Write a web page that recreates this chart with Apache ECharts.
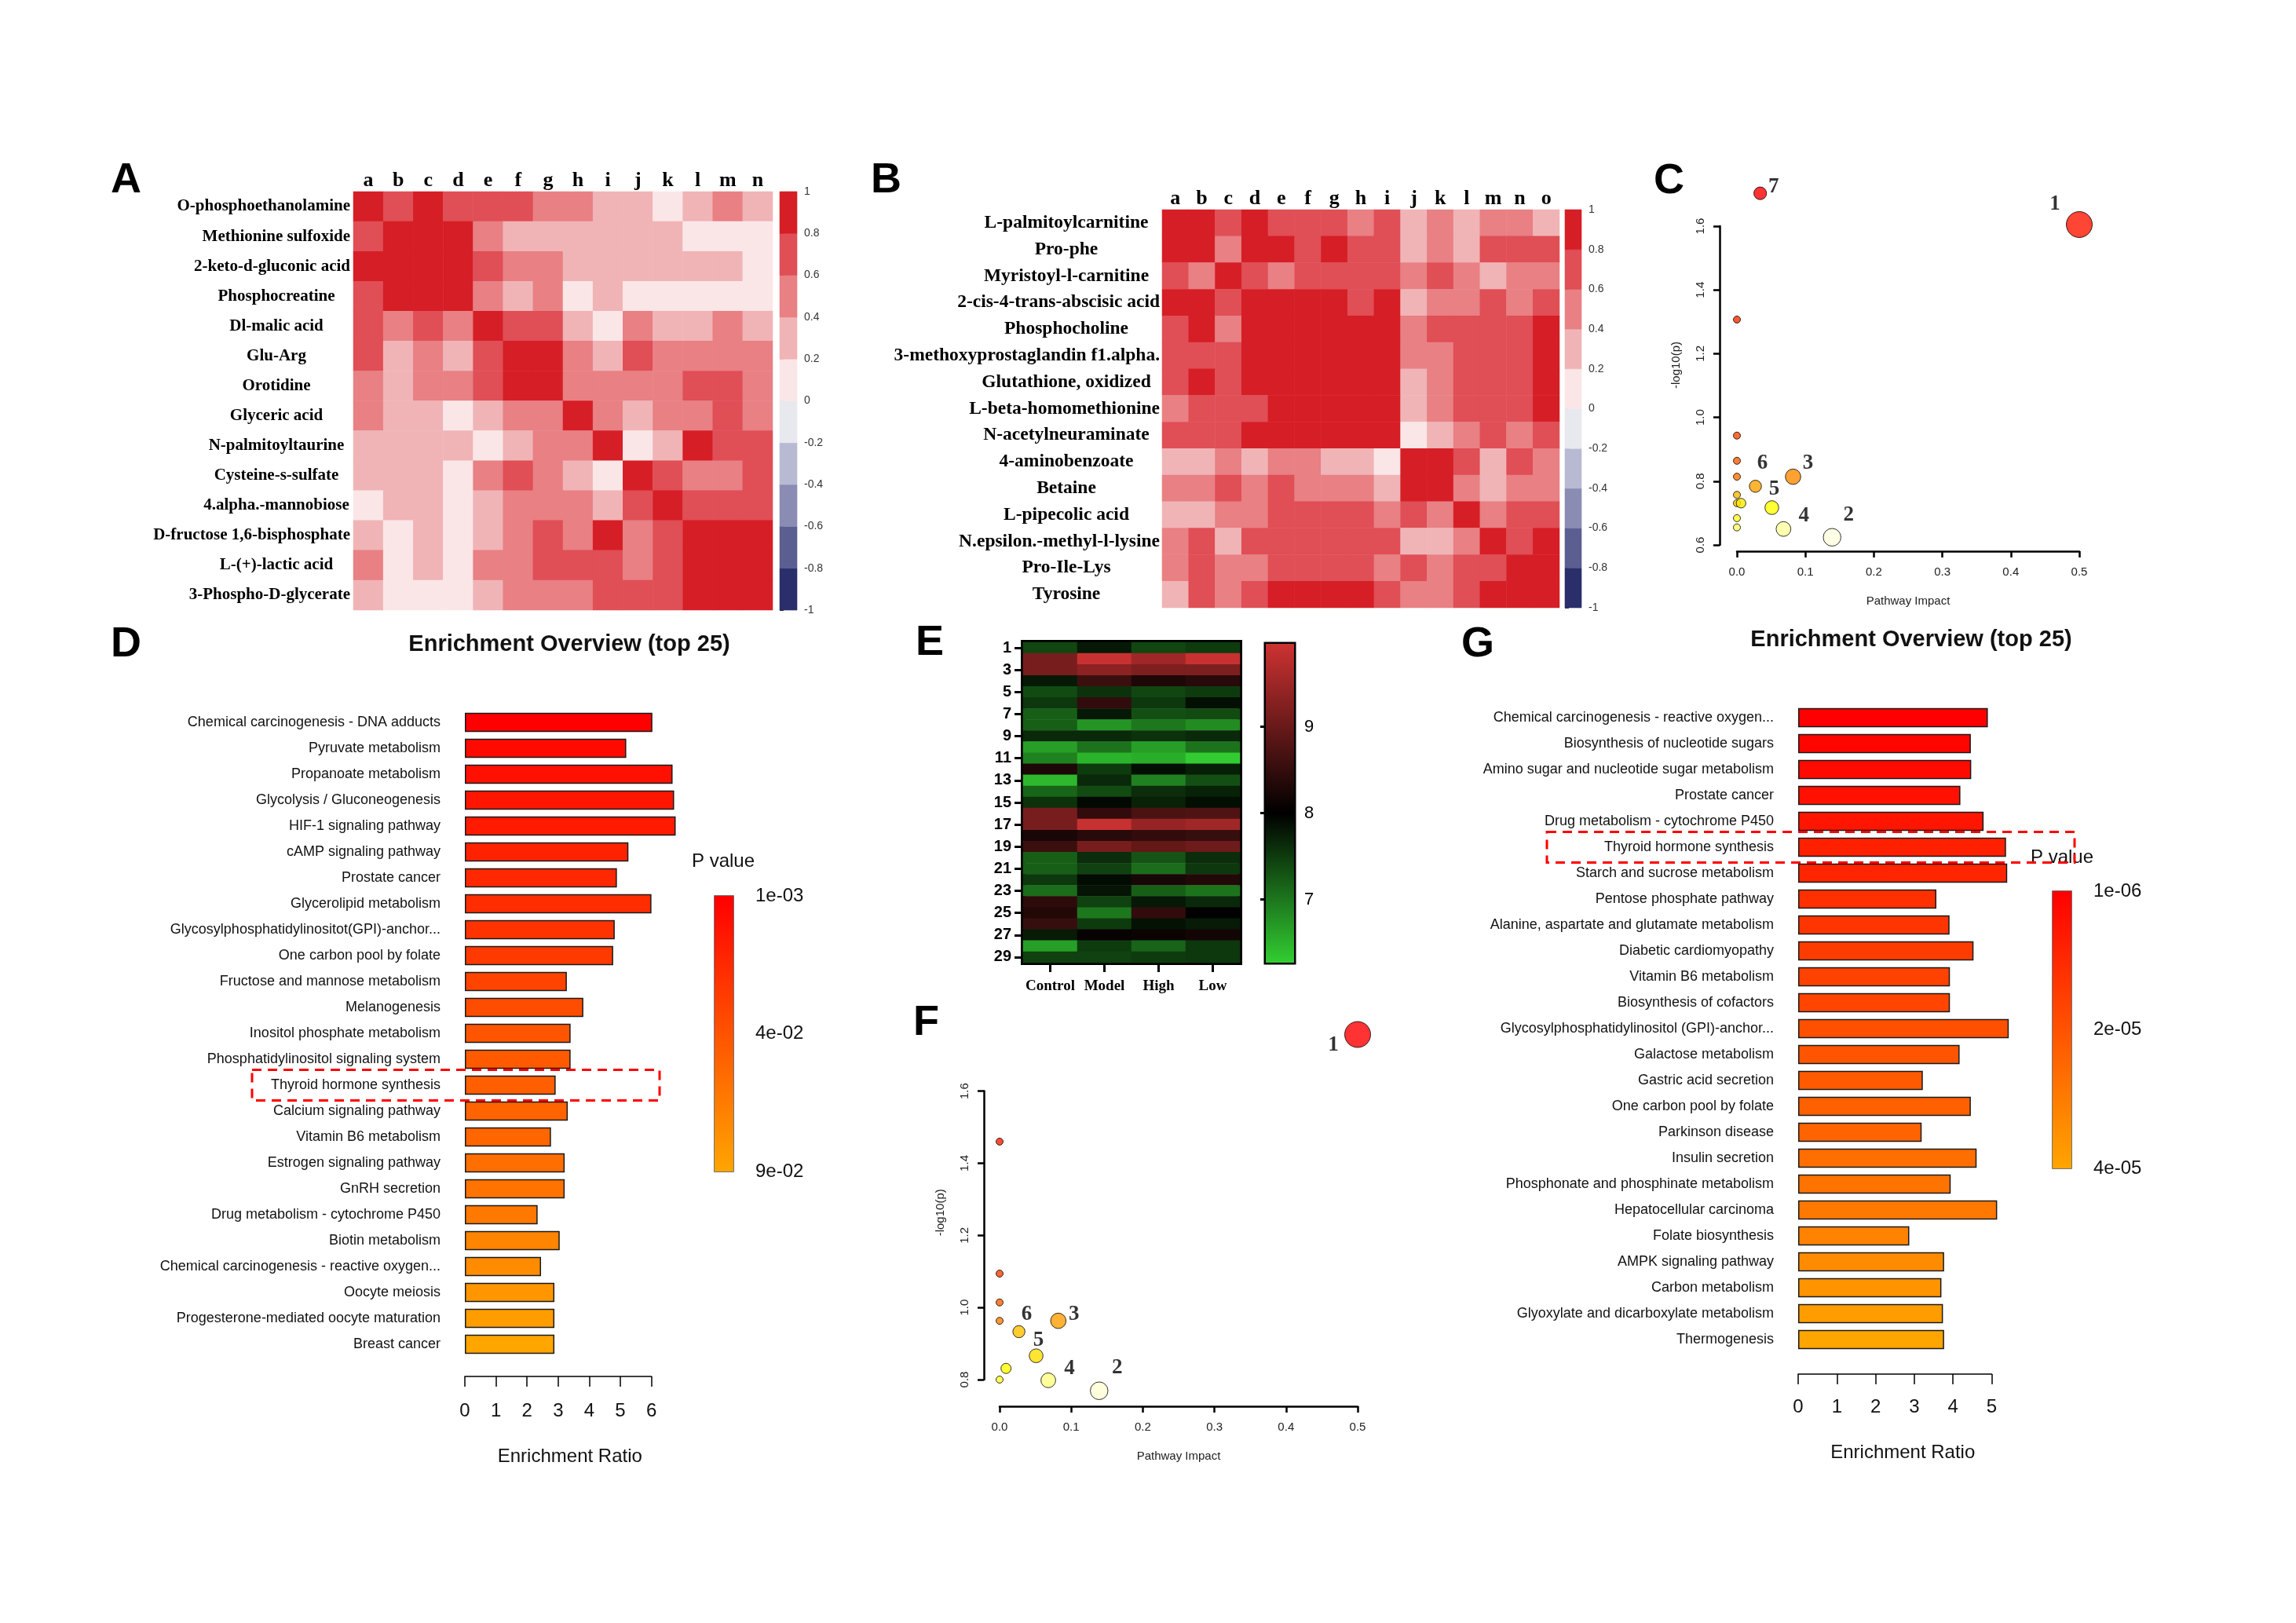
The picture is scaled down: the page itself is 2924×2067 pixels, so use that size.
<!DOCTYPE html>
<html><head><meta charset="utf-8">
<script src="https://cdn.jsdelivr.net/npm/echarts@6.0.0/dist/echarts.min.js"></script>
<style>html,body{margin:0;padding:0;background:#fff}#c{width:2924px;height:2067px}</style>
</head><body><div id="c"></div>
<script>
// ===================== DATA =====================
// Panel A – correlation heatmap
const A_cols = ['a','b','c','d','e','f','g','h','i','j','k','l','m','n'];
const A_rows = ['O-phosphoethanolamine','Methionine sulfoxide','2-keto-d-gluconic acid','Phosphocreatine','Dl-malic acid','Glu-Arg','Orotidine','Glyceric acid','N-palmitoyltaurine','Cysteine-s-sulfate','4.alpha.-mannobiose','D-fructose 1,6-bisphosphate','L-(+)-lactic acid','3-Phospho-D-glycerate'];
const A_values = [
 [0.9,0.7,0.9,0.7,0.7,0.7,0.5,0.5,0.3,0.3,0.1,0.3,0.5,0.3],
 [0.7,0.9,0.9,0.9,0.5,0.3,0.3,0.3,0.3,0.3,0.3,0.1,0.1,0.1],
 [0.9,0.9,0.9,0.9,0.7,0.5,0.5,0.3,0.3,0.3,0.3,0.3,0.3,0.1],
 [0.7,0.9,0.9,0.9,0.5,0.3,0.5,0.1,0.3,0.1,0.1,0.1,0.1,0.1],
 [0.7,0.5,0.7,0.5,0.9,0.7,0.7,0.3,0.1,0.5,0.3,0.3,0.5,0.3],
 [0.7,0.3,0.5,0.3,0.7,0.9,0.9,0.5,0.3,0.7,0.5,0.5,0.5,0.5],
 [0.5,0.3,0.5,0.5,0.7,0.9,0.9,0.5,0.5,0.5,0.5,0.7,0.7,0.5],
 [0.5,0.3,0.3,0.1,0.3,0.5,0.5,0.9,0.5,0.3,0.5,0.5,0.7,0.5],
 [0.3,0.3,0.3,0.3,0.1,0.3,0.5,0.5,0.9,0.1,0.3,0.9,0.7,0.7],
 [0.3,0.3,0.3,0.1,0.5,0.7,0.5,0.3,0.1,0.9,0.7,0.5,0.5,0.7],
 [0.1,0.3,0.3,0.1,0.3,0.5,0.5,0.5,0.3,0.7,0.9,0.7,0.7,0.7],
 [0.3,0.1,0.3,0.1,0.3,0.5,0.7,0.5,0.9,0.5,0.7,0.9,0.9,0.9],
 [0.5,0.1,0.3,0.1,0.5,0.5,0.7,0.7,0.7,0.5,0.7,0.9,0.9,0.9],
 [0.3,0.1,0.1,0.1,0.3,0.5,0.5,0.5,0.7,0.7,0.7,0.9,0.9,0.9]
];
// Panel B – correlation heatmap
const B_cols = ['a','b','c','d','e','f','g','h','i','j','k','l','m','n','o'];
const B_rows = ['L-palmitoylcarnitine','Pro-phe','Myristoyl-l-carnitine','2-cis-4-trans-abscisic acid','Phosphocholine','3-methoxyprostaglandin f1.alpha.','Glutathione, oxidized','L-beta-homomethionine','N-acetylneuraminate','4-aminobenzoate','Betaine','L-pipecolic acid','N.epsilon.-methyl-l-lysine','Pro-Ile-Lys','Tyrosine'];
const B_values = [
 [0.9,0.9,0.7,0.9,0.7,0.7,0.7,0.5,0.7,0.3,0.5,0.3,0.5,0.5,0.3],
 [0.9,0.9,0.5,0.9,0.9,0.7,0.9,0.7,0.7,0.3,0.5,0.3,0.7,0.7,0.7],
 [0.7,0.5,0.9,0.7,0.5,0.7,0.7,0.7,0.7,0.5,0.7,0.5,0.3,0.5,0.5],
 [0.9,0.9,0.7,0.9,0.9,0.9,0.9,0.7,0.9,0.3,0.5,0.5,0.7,0.5,0.7],
 [0.7,0.9,0.5,0.9,0.9,0.9,0.9,0.9,0.9,0.5,0.7,0.7,0.7,0.7,0.9],
 [0.7,0.7,0.7,0.9,0.9,0.9,0.9,0.9,0.9,0.5,0.5,0.7,0.7,0.7,0.9],
 [0.7,0.9,0.7,0.9,0.9,0.9,0.9,0.9,0.9,0.3,0.5,0.7,0.7,0.7,0.9],
 [0.5,0.7,0.7,0.7,0.9,0.9,0.9,0.9,0.9,0.3,0.5,0.7,0.7,0.7,0.9],
 [0.7,0.7,0.7,0.9,0.9,0.9,0.9,0.9,0.9,0.1,0.3,0.5,0.7,0.5,0.7],
 [0.3,0.3,0.5,0.3,0.5,0.5,0.3,0.3,0.1,0.9,0.9,0.7,0.3,0.7,0.5],
 [0.5,0.5,0.7,0.5,0.7,0.5,0.5,0.5,0.3,0.9,0.9,0.5,0.3,0.5,0.5],
 [0.3,0.3,0.5,0.5,0.7,0.7,0.7,0.7,0.5,0.7,0.5,0.9,0.5,0.7,0.7],
 [0.5,0.7,0.3,0.7,0.7,0.7,0.7,0.7,0.7,0.3,0.3,0.5,0.9,0.7,0.9],
 [0.5,0.7,0.5,0.5,0.7,0.7,0.7,0.7,0.5,0.7,0.5,0.7,0.7,0.9,0.9],
 [0.3,0.7,0.5,0.7,0.9,0.9,0.9,0.9,0.7,0.5,0.5,0.7,0.9,0.9,0.9]
];
const CORR_BREAKS = [-1,-0.8,-0.6,-0.4,-0.2,0,0.2,0.4,0.6,0.8,1];

// Panel C – pathway impact bubble plot
const C_impact = [0.034,0.5,0,0,0,0,0.082,0.027,0,0,0.006,0.051,0,0,0.068,0.139];
const C_logp   = [1.703,1.605,1.307,0.943,0.864,0.814,0.814,0.784,0.757,0.731,0.731,0.717,0.684,0.655,0.650,0.624];
const C_labels = ['7','1','','','','','3','6','','','','5','','','4','2'];

// Panel F – pathway impact bubble plot
const F_impact = [0.5,0,0,0,0,0.082,0.027,0.051,0.009,0,0.068,0.139];
const F_logp   = [1.757,1.460,1.094,1.014,0.963,0.963,0.933,0.866,0.831,0.800,0.798,0.769];
const F_labels = ['1','','','','','3','6','5','','','4','2'];

// Panel E – expression heatmap
const E_groups = ['Control','Model','High','Low'];
const E_rows = ['1','2','3','4','5','6','7','8','9','10','11','12','13','14','15','16','17','18','19','20','21','22','23','24','25','26','27','28','29'];
const E_control = [7.41,9.15,9.15,7.79,7.37,7.54,7.2,7.2,7.66,6.66,6.91,8.29,6.45,7.16,7.58,9.15,9.15,8.24,8.57,7.2,7.2,7.54,7.08,8.43,8.33,8.53,7.77,6.66,7.45];
const E_model   = [7.79,9.91,9.34,8.57,7.58,8.48,7.79,6.74,7.66,7.03,6.49,7.5,7.66,7.37,7.92,8.48,9.91,8.38,9.15,7.62,7.45,7.9,7.83,7.45,6.99,7.5,8.08,7.5,7.45];
const E_high    = [7.41,9.53,9.2,8.29,7.41,7.54,7.33,6.99,7.58,6.66,6.53,7.87,6.91,7.62,7.71,8.72,9.43,8.48,8.96,7.29,7.08,8.24,7.2,7.79,8.48,7.85,8.11,7.16,7.5];
const E_low     = [7.5,9.91,9.2,8.38,7.5,7.87,7.37,6.83,7.66,7.03,6.28,7.75,7.33,7.71,7.87,8.76,9.53,8.53,9.05,7.62,7.54,8.33,7.03,7.66,8.02,7.77,8.19,7.54,7.54];
const E_TICKS = [7,8,9];
const E_MIN = 6.27, E_MID = 8, E_MAX = 9.96;

// Panel D – enrichment overview
const D_terms = ['Chemical carcinogenesis - DNA adducts','Pyruvate metabolism','Propanoate metabolism','Glycolysis / Gluconeogenesis','HIF-1 signaling pathway','cAMP signaling pathway','Prostate cancer','Glycerolipid metabolism','Glycosylphosphatidylinositot(GPI)-anchor...','One carbon pool by folate','Fructose and mannose metabolism','Melanogenesis','Inositol phosphate metabolism','Phosphatidylinositol signaling system','Thyroid hormone synthesis','Calcium signaling pathway','Vitamin B6 metabolism','Estrogen signaling pathway','GnRH secretion','Drug metabolism - cytochrome P450','Biotin metabolism','Chemical carcinogenesis - reactive oxygen...','Oocyte meiosis','Progesterone-mediated oocyte maturation','Breast cancer'];
const D_ratio = [6.03,5.19,6.68,6.73,6.78,5.26,4.89,6.0,4.82,4.77,3.28,3.81,3.40,3.40,2.92,3.31,2.77,3.21,3.21,2.34,3.05,2.45,2.88,2.88,2.88];
const D_p = [0.001,0.0064,0.0096,0.0123,0.015,0.0193,0.0226,0.0253,0.0285,0.0323,0.0377,0.0425,0.0468,0.0495,0.0522,0.055,0.056,0.0603,0.063,0.0657,0.072,0.0765,0.082,0.085,0.09];
const D_PTICKS = ['9e-02','4e-02','1e-03'];
const D_PMIN = 0.001, D_PMAX = 0.09;

// Panel G – enrichment overview
const G_terms = ['Chemical carcinogenesis - reactive oxygen...','Biosynthesis of nucleotide sugars','Amino sugar and nucleotide sugar metabolism','Prostate cancer','Drug metabolism - cytochrome P450','Thyroid hormone synthesis','Starch and sucrose metabolism','Pentose phosphate pathway','Alanine, aspartate and glutamate metabolism','Diabetic cardiomyopathy','Vitamin B6 metabolism','Biosynthesis of cofactors','Glycosylphosphatidylinositol (GPI)-anchor...','Galactose metabolism','Gastric acid secretion','One carbon pool by folate','Parkinson disease','Insulin secretion','Phosphonate and phosphinate metabolism','Hepatocellular carcinoma','Folate biosynthesis','AMPK signaling pathway','Carbon metabolism','Glyoxylate and dicarboxylate metabolism','Thermogenesis'];
const G_ratio = [4.90,4.46,4.47,4.19,4.79,5.37,5.40,3.57,3.91,4.53,3.92,3.92,5.44,4.17,3.22,4.46,3.19,4.61,3.94,5.14,2.87,3.77,3.70,3.74,3.77];
const G_p = [1.0e-6,2.2e-6,3.4e-6,4.8e-6,6.0e-6,8.6e-6,9.8e-6,1.24e-5,1.36e-5,1.53e-5,1.67e-5,1.74e-5,2.0e-5,2.11e-5,2.23e-5,2.37e-5,2.46e-5,2.70e-5,2.82e-5,2.93e-5,3.17e-5,3.41e-5,3.60e-5,3.79e-5,4.0e-5];
const G_PTICKS = ['4e-05','2e-05','1e-06'];
const G_PMIN = 1e-6, G_PMAX = 4e-5;

// ===================== STYLE HELPERS =====================
const SERIF = '"Liberation Serif", "Times New Roman", serif';
const SANS = '"Liberation Sans", Arial, Helvetica, sans-serif';
const CORR_COLORS = ['#2a2e6a','#5b5e90','#8a8cb3','#b8bad3','#e8e8ef','#fbe6e7','#f0b4b6','#e88084','#e04e56','#d61e26'];
function corrColor(v){ const k = Math.floor((v + 1) / 0.2 + 1e-9); return CORR_COLORS[Math.max(0, Math.min(9, k))]; }
function hex2(n){ n = Math.round(Math.max(0, Math.min(255, n))); return (n < 16 ? '0' : '') + n.toString(16); }
function rgb(r,g,b){ return '#' + hex2(r) + hex2(g) + hex2(b); }
function eColor(v){
  if (v <= E_MID) { const t = Math.min(1, (E_MID - v) / (E_MID - E_MIN)); return rgb(50*t, 205*t, 50*t); }
  const t = Math.min(1, (v - E_MID) / (E_MAX - E_MID)); return rgb(205*t, 50*t, 50*t);
}
function pColor(p, lo, hi){ const t = Math.max(0, Math.min(1, (p - lo) / (hi - lo))); return rgb(255, 165*t, 0); }
function hsv(h, s, v){
  const i = Math.floor(h * 6 + 1e-9), f = Math.max(0, h * 6 - i);
  const p = v*(1-s), q = v*(1-f*s), t = v*(1-(1-f)*s);
  let r, g, b;
  switch (((i % 6) + 6) % 6) { case 0: r=v; g=t; b=p; break; case 1: r=q; g=v; b=p; break; case 2: r=p; g=v; b=t; break;
    case 3: r=p; g=q; b=v; break; case 4: r=t; g=p; b=v; break; default: r=v; g=p; b=q; }
  return rgb(r*255, g*255, b*255);
}
// R's heat.colors(n)
function heatColors(n){
  const j = Math.floor(n / 4), i = n - j, cols = [];
  for (let k = 0; k < i; k++) cols.push(hsv(i > 1 ? (k / (i - 1)) / 6 : 0, 1, 1));
  const s0 = 1 - 1/(2*j), s1 = 1/(2*j);
  for (let k = 0; k < j; k++) cols.push(hsv(1/6, j > 1 ? s0 + (s1 - s0) * k / (j - 1) : s0, 1));
  return cols;
}
function rankColors(vals){
  const idx = vals.map((v,i)=>i).sort((a,b)=> vals[b] - vals[a]);
  const pal = heatColors(vals.length), out = new Array(vals.length);
  idx.forEach((k, r) => { out[k] = pal[r]; });
  return out;
}
const bubbleSize = x => 9 + 24 * Math.pow(x / 0.5, 0.45);
const C_LABEL_OFFSET = {'7':[17,-8],'1':[-31,-26],'6':[9,-29],'3':[19,-17],'5':[3,-23],'4':[26,-17],'2':[21,-28]};
const F_LABEL_OFFSET = {'1':[-31,14],'6':[10,-22],'3':[20,-8],'5':[3,-20],'4':[27,-15],'2':[23,-29]};

function bubbleData(imp, lp, labs, offs){
  const cols = rankColors(lp);
  return imp.map((x, i) => ({
    value: [x, lp[i]],
    symbolSize: bubbleSize(x),
    itemStyle: { color: cols[i], borderColor: '#000', borderWidth: 1 },
    label: { show: labs[i] !== '', formatter: labs[i], position: 'inside', offset: offs[labs[i]] || [0,0],
      fontFamily: SERIF, fontWeight: 'bold', fontSize: 27, color: '#000' }
  }));
}
function heatData(values, colorFn){
  const out = [];
  values.forEach((row, r) => row.forEach((v, c) => out.push({ value: [c, r, v], itemStyle: { color: colorFn(v) } })));
  return out;
}
// row labels: centred on a column, but never running past the heatmap edge
const measureCtx = document.createElement('canvas').getContext('2d');
function centredRowLabels(rows, fontSize, centre, rightLimit){
  measureCtx.font = 'bold ' + fontSize + 'px ' + SERIF;
  return rows.map(name => {
    const w = measureCtx.measureText(name).width;
    const pad = Math.max(0, rightLimit - (centre + w / 2));
    return { value: name, textStyle: { padding: [0, pad, 0, 0] } };
  });
}
// colorbar rect renderer: data item = [x0, y0, x1, y1]
function cbRender(fillFn){
  return function(params, api){
    const p0 = api.coord([api.value(0), api.value(1)]);
    const p1 = api.coord([api.value(2), api.value(3)]);
    const fill = fillFn(api.value(1), api.value(3));
    return { type: 'rect', shape: { x: Math.min(p0[0],p1[0]), y: Math.min(p0[1],p1[1]), width: Math.abs(p1[0]-p0[0]), height: Math.abs(p1[1]-p0[1]) },
      style: { fill: fill, stroke: typeof fill === 'string' ? fill : null, lineWidth: 0.6 } };
  };
}
const corrBins = CORR_BREAKS.slice(0, -1).map((b, i) => [0, b, 1, CORR_BREAKS[i+1]]);

const noAxis = (gi, extra) => Object.assign({ gridIndex: gi, type: 'value', min: 0, max: 1, show: false }, extra || {});

// ===================== CHART =====================
const chart = echarts.init(document.getElementById('c'), null, { renderer: 'canvas', width: 2924, height: 2067 });

const heatX = (gi, data) => ({ gridIndex: gi, type: 'category', data: data, position: 'top',
  axisLine: { show: false }, axisTick: { show: false }, splitLine: { show: false },
  axisLabel: { interval: 0, fontFamily: SERIF, fontWeight: 'bold', fontSize: 26, color: '#000', margin: 1 } });
const heatY = (gi, data, fs, margin) => ({ gridIndex: gi, type: 'category', data: data, inverse: true,
  axisLine: { show: false }, axisTick: { show: false }, splitLine: { show: false },
  axisLabel: { interval: 0, align: 'right', fontFamily: SERIF, fontWeight: 'bold', fontSize: fs, color: '#000', margin: margin } });
const corrBarY = gi => ({ gridIndex: gi, type: 'value', min: -1, max: 1, interval: 0.2, position: 'right',
  axisLine: { show: false }, splitLine: { show: false },
  axisTick: { show: true, length: 5, lineStyle: { color: '#333', width: 1 } },
  axisLabel: { fontFamily: SANS, fontSize: 14, color: '#333', margin: 9 } });
const AXW = 2.5;
// R-style bubble axes live on their own grids (shifted copies of the data grid)
const bubbleX = (gi) => ({ gridIndex: gi, type: 'value', min: 0, max: 0.5, interval: 0.1, position: 'bottom',
  splitLine: { show: false }, axisLine: { show: true, onZero: false, lineStyle: { color: '#000', width: AXW } },
  axisTick: { show: true, length: 8, lineStyle: { color: '#000', width: AXW } },
  axisLabel: { show: true, fontFamily: SANS, fontSize: 15, color: '#222', margin: 19, formatter: v => v.toFixed(1) },
  name: 'Pathway Impact', nameLocation: 'middle', nameGap: 56,
  nameTextStyle: { fontFamily: SANS, fontSize: 15, color: '#222' } });
const bubbleY = (gi, mn, shift) => ({ gridIndex: gi, type: 'value', min: mn, max: 1.6, interval: 0.2, position: 'left',
  splitLine: { show: false }, axisLine: { show: true, onZero: false, lineStyle: { color: '#000', width: AXW } },
  axisTick: { show: true, length: 8, lineStyle: { color: '#000', width: AXW } },
  axisLabel: { show: true, fontFamily: SANS, fontSize: 15, color: '#222', margin: 17, rotate: 90, formatter: v => v.toFixed(1) },
  name: '-log10(p)', nameLocation: 'middle', nameGap: 48,
  nameTextStyle: { fontFamily: SANS, fontSize: 15, color: '#222', padding: [0, 0, 0, shift] } });
const enrichX = (gi, mx, off, margin, gap, shift) => ({ gridIndex: gi, type: 'value', min: 0, max: mx, interval: 1, offset: off,
  splitLine: { show: false }, axisLine: { show: true, onZero: false, lineStyle: { color: '#000', width: 1.5 } },
  axisTick: { show: true, length: 13, lineStyle: { color: '#000', width: 1.5 } },
  axisLabel: { fontFamily: SANS, fontSize: 24, color: '#111', margin: margin },
  name: 'Enrichment Ratio', nameLocation: 'middle', nameGap: gap,
  nameTextStyle: { fontFamily: SANS, fontSize: 24, color: '#111', padding: [0, 0, 0, shift] } });
const enrichY = (gi, terms) => ({ gridIndex: gi, type: 'category', data: terms, inverse: true,
  axisLine: { show: false }, axisTick: { show: false }, splitLine: { show: false },
  axisLabel: { interval: 0, fontFamily: SANS, fontSize: 18, color: '#111', margin: 31 } });
const pBarY = (gi, ticks) => ({ gridIndex: gi, type: 'category', data: ticks, boundaryGap: false, position: 'right',
  axisLine: { show: false }, axisTick: { show: false }, splitLine: { show: false },
  axisLabel: { interval: 0, fontFamily: SANS, fontSize: 24, color: '#111', margin: 28 } });

const C_GRID = { left: 2212, top: 288, width: 436, height: 406 };
const F_GRID = { left: 1273, top: 1389.6, width: 456, height: 367.4 };
const shifted = (g, dx, dy) => ({ left: g.left + dx, top: g.top + dy, width: g.width, height: g.height });

const option = {
  animation: false,
  backgroundColor: '#fff',
  textStyle: { fontFamily: SANS },
  grid: [
    { left: 450, top: 244, width: 534, height: 533 },                 // 0 A heatmap
    { left: 993, top: 244, width: 22, height: 533 },                  // 1 A colorbar
    { left: 1480, top: 267, width: 506, height: 507 },                // 2 B heatmap
    { left: 1993, top: 267, width: 21, height: 507 },                 // 3 B colorbar
    C_GRID,                                                           // 4 C data
    { left: 1303, top: 818, width: 276, height: 408, show: true, borderColor: '#000', borderWidth: 6, backgroundColor: 'transparent' }, // 5 E
    { left: 1612, top: 820, width: 36, height: 406, show: true, borderColor: '#000', borderWidth: 5, backgroundColor: 'transparent' },  // 6 E colorbar
    F_GRID,                                                           // 7 F data
    { left: 592, top: 903.5, width: 237.6, height: 825 },             // 8 D bars
    { left: 910, top: 1141, width: 24, height: 351, show: true, borderColor: '#444', borderWidth: 1.5, backgroundColor: 'transparent' }, // 9 D colorbar
    { left: 2290, top: 897.5, width: 246.5, height: 825 },            // 10 G bars
    { left: 2614, top: 1135, width: 24, height: 353, show: true, borderColor: '#444', borderWidth: 1.5, backgroundColor: 'transparent' }, // 11 G colorbar
    shifted(C_GRID, 0, 8),                                            // 12 C x-axis
    shifted(C_GRID, -22, 0),                                          // 13 C y-axis
    shifted(F_GRID, 0, 34),                                           // 14 F x-axis
    shifted(F_GRID, -20, 0)                                           // 15 F y-axis
  ],
  xAxis: [
    heatX(0, A_cols),
    noAxis(1),
    heatX(2, B_cols),
    noAxis(3),
    { gridIndex: 4, type: 'value', min: 0, max: 0.5, show: false },
    { gridIndex: 5, type: 'category', data: E_groups, position: 'bottom',
      axisLine: { show: false }, splitLine: { show: false },
      axisTick: { show: true, interval: 0, alignWithLabel: true, length: 12, lineStyle: { color: '#000', width: 3 } },
      axisLabel: { interval: 0, fontFamily: SERIF, fontWeight: 'bold', fontSize: 19, color: '#000', margin: 21 } },
    noAxis(6),
    { gridIndex: 7, type: 'value', min: 0, max: 0.5, show: false },
    enrichX(8, 6, 24.5, 32, 90, 30),
    noAxis(9),
    enrichX(10, 5, 27.5, 30, 88, 20),
    noAxis(11),
    bubbleX(12),
    noAxis(13),
    bubbleX(14),
    noAxis(15)
  ],
  yAxis: [
    heatY(0, centredRowLabels(A_rows, 21, 352, 446), 21, 4),
    corrBarY(1),
    heatY(2, centredRowLabels(B_rows, 23.5, 1358, 1477), 23.5, 3),
    corrBarY(3),
    { gridIndex: 4, type: 'value', min: 0.6, max: 1.6, show: false },
    { gridIndex: 5, type: 'category', data: E_rows, inverse: true,
      axisLine: { show: false }, splitLine: { show: false },
      axisTick: { show: true, interval: 1, alignWithLabel: true, length: 11, lineStyle: { color: '#000', width: 3 } },
      axisLabel: { interval: 1, fontFamily: SANS, fontWeight: 'bold', fontSize: 20, color: '#000', margin: 15 } },
    { gridIndex: 6, type: 'value', min: E_MIN, max: E_MAX, position: 'right',
      axisLine: { show: false }, splitLine: { show: false },
      axisTick: { show: true, inside: true, length: 7, customValues: E_TICKS, lineStyle: { color: '#000', width: 3 } },
      axisLabel: { fontFamily: SANS, fontSize: 22, color: '#000', margin: 13, customValues: E_TICKS } },
    { gridIndex: 7, type: 'value', min: 0.8, max: 1.6, show: false },
    enrichY(8, D_terms),
    pBarY(9, D_PTICKS),
    enrichY(10, G_terms),
    pBarY(11, G_PTICKS),
    noAxis(12),
    bubbleY(13, 0.6, 52),
    noAxis(14),
    bubbleY(15, 0.8, 58)
  ],
  series: [
    { type: 'heatmap', xAxisIndex: 0, yAxisIndex: 0, data: heatData(A_values, corrColor), emphasis: { disabled: true } },
    { type: 'custom', xAxisIndex: 1, yAxisIndex: 1, data: corrBins, encode: { x: [0, 2], y: [1, 3] },
      renderItem: cbRender((a, b) => corrColor((a + b) / 2)) },
    { type: 'heatmap', xAxisIndex: 2, yAxisIndex: 2, data: heatData(B_values, corrColor), emphasis: { disabled: true } },
    { type: 'custom', xAxisIndex: 3, yAxisIndex: 3, data: corrBins, encode: { x: [0, 2], y: [1, 3] },
      renderItem: cbRender((a, b) => corrColor((a + b) / 2)) },
    { type: 'scatter', xAxisIndex: 4, yAxisIndex: 4, clip: false, data: bubbleData(C_impact, C_logp, C_labels, C_LABEL_OFFSET), emphasis: { disabled: true } },
    { type: 'heatmap', xAxisIndex: 5, yAxisIndex: 5, emphasis: { disabled: true },
      data: heatData(E_rows.map((r, i) => [E_control[i], E_model[i], E_high[i], E_low[i]]), eColor) },
    { type: 'custom', xAxisIndex: 6, yAxisIndex: 6, data: [[0, E_MIN, 1, E_MAX]], encode: { x: [0, 2], y: [1, 3] },
      renderItem: cbRender((a, b) => new echarts.graphic.LinearGradient(0, 0, 0, 1, [
        { offset: 0, color: eColor(E_MAX) }, { offset: (E_MAX - E_MID) / (E_MAX - E_MIN), color: eColor(E_MID) }, { offset: 1, color: eColor(E_MIN) }])) },
    { type: 'scatter', xAxisIndex: 7, yAxisIndex: 7, clip: false, data: bubbleData(F_impact, F_logp, F_labels, F_LABEL_OFFSET), emphasis: { disabled: true } },
    { type: 'bar', xAxisIndex: 8, yAxisIndex: 8, clip: false, barWidth: '74%', encode: { x: 0, y: 1 },
      data: D_ratio.map((r, i) => [r, D_terms[i], D_p[i]]),
      itemStyle: { color: p => pColor(p.value[2], D_PMIN, D_PMAX), borderColor: '#1a1a1a', borderWidth: 1.5 }, emphasis: { disabled: true } },
    { type: 'custom', xAxisIndex: 9, yAxisIndex: 9, data: [[0, 0, 1, 2]], encode: { x: [0, 2], y: [1, 3] },
      renderItem: cbRender(() => new echarts.graphic.LinearGradient(0, 0, 0, 1, [
        { offset: 0, color: pColor(D_PMIN, D_PMIN, D_PMAX) }, { offset: 1, color: pColor(D_PMAX, D_PMIN, D_PMAX) }])) },
    { type: 'bar', xAxisIndex: 10, yAxisIndex: 10, clip: false, barWidth: '74%', encode: { x: 0, y: 1 },
      data: G_ratio.map((r, i) => [r, G_terms[i], G_p[i]]),
      itemStyle: { color: p => pColor(p.value[2], G_PMIN, G_PMAX), borderColor: '#1a1a1a', borderWidth: 1.5 }, emphasis: { disabled: true } },
    { type: 'custom', xAxisIndex: 11, yAxisIndex: 11, data: [[0, 0, 1, 2]], encode: { x: [0, 2], y: [1, 3] },
      renderItem: cbRender(() => new echarts.graphic.LinearGradient(0, 0, 0, 1, [
        { offset: 0, color: pColor(G_PMIN, G_PMIN, G_PMAX) }, { offset: 1, color: pColor(G_PMAX, G_PMIN, G_PMAX) }])) }
  ]
};
chart.setOption(option);

// ---------- annotations (text + dashed highlight boxes) ----------
const letter = (t, x, y) => ({ type: 'text', x: x, y: y, style: { text: t, font: 'bold 54px ' + SANS, fill: '#000', align: 'left', verticalAlign: 'middle' } });
const txt = (t, x, y, font, align) => ({ type: 'text', x: x, y: y, style: { text: t, font: font, fill: '#111', align: align || 'center', verticalAlign: 'middle' } });
const yD = chart.convertToPixel({ yAxisIndex: 8 }, 'Thyroid hormone synthesis');
const yG = chart.convertToPixel({ yAxisIndex: 10 }, 'Thyroid hormone synthesis');
const dashBox = (x0, x1, yc) => ({ type: 'rect', z: 100, shape: { x: x0, y: yc - 19.5, width: x1 - x0, height: 39 },
  style: { fill: 'none', stroke: '#ff0000', lineWidth: 3, lineDash: [12, 8] } });
chart.setOption({
  graphic: [
    letter('A', 141, 230), letter('B', 1109, 230), letter('C', 2106, 231),
    letter('D', 141, 821), letter('E', 1166, 819), letter('F', 1163, 1303), letter('G', 1861, 821),
    txt('Enrichment Overview (top 25)', 725, 821, 'bold 29px ' + SANS),
    txt('Enrichment Overview (top 25)', 2434, 815, 'bold 29px ' + SANS),
    txt('P value', 921, 1097, '24px ' + SANS),
    txt('P value', 2626, 1092, '24px ' + SANS),
    dashBox(321, 840, yD),
    dashBox(1970, 2642, yG)
  ]
});
</script>
</body></html>
